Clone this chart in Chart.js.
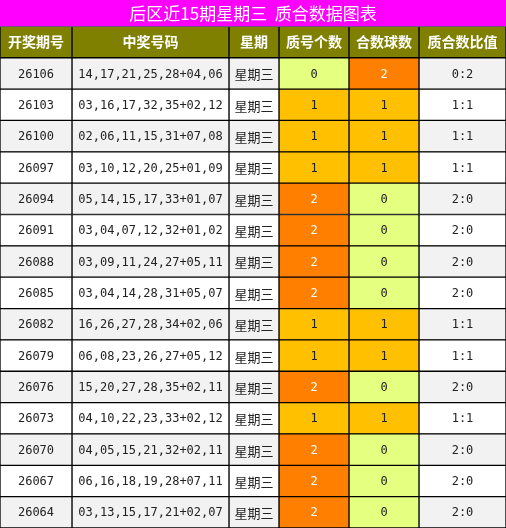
<!DOCTYPE html>
<html><head><meta charset="utf-8">
<script src="https://cdn.jsdelivr.net/npm/chart.js@4"></script>
<style>html,body{margin:0;padding:0;background:#fff}#w{width:506px;height:528px}</style>
</head><body><div id="w"><canvas id="c"></canvas></div>
<script>
const titleText = '后区近15期星期三  质合数据图表';
const headers = ['开奖期号','中奖号码','星期','质号个数','合数球数','质合数比值'];
const issues = ['26106','26103','26100','26097','26094','26091','26088','26085','26082','26079','26076','26073','26070','26067','26064'];
const numbers = ['14,17,21,25,28+04,06','03,16,17,32,35+02,12','02,06,11,15,31+07,08','03,10,12,20,25+01,09','05,14,15,17,33+01,07','03,04,07,12,32+01,02','03,09,11,24,27+05,11','03,04,14,28,31+05,07','16,26,27,28,34+02,06','06,08,23,26,27+05,12','15,20,27,28,35+02,11','04,10,22,23,33+02,12','04,05,15,21,32+02,11','06,16,18,19,28+07,11','03,13,15,17,21+02,07'];
const weekday = issues.map(()=> '星期三');
const primeCount = [0,1,1,1,2,2,2,2,1,1,2,1,2,2,2];
const compositeCount = [2,1,1,1,0,0,0,0,1,1,0,1,0,0,0];
const ratio = primeCount.map((p,i)=>p+':'+compositeCount[i]);

const colEdges = [0,72,229,279,349,419,506];
const rowLabels = ['header', ...issues];
const valColor = v => v===0?'#E5FF80':(v===1?'#FFC000':'#FF8000');
const rowBg = i => i%2===0?'#F2F2F2':'#FFFFFF';

const cols = [
  {text: issues, color: i=>rowBg(i), mono:true},
  {text: numbers, color: i=>rowBg(i), mono:true},
  {text: weekday, color: i=>rowBg(i), mono:false},
  {text: primeCount.map(String), color: i=>valColor(primeCount[i]), tc: i=>primeCount[i]===2?'#fff':'#222', mono:true},
  {text: compositeCount.map(String), color: i=>valColor(compositeCount[i]), tc: i=>compositeCount[i]===2?'#fff':'#222', mono:true},
  {text: ratio, color: i=>rowBg(i), mono:true},
];
const datasets = cols.map((c,ci)=>({
  data: rowLabels.map(()=>[colEdges[ci],colEdges[ci+1]]),
  backgroundColor: rowLabels.map((r,ri)=> ri===0?'#808000':c.color(ri-1)),
  borderColor:'#000', borderWidth:1, borderSkipped:false,
  barPercentage:1, categoryPercentage:1
}));

const bgTitle = {id:'bgTitle', beforeDraw(ch){const t=ch.titleBlock;const x=ch.ctx;x.save();x.fillStyle='#FF00FF';x.fillRect(0,0,ch.width,t.bottom);x.restore();}};
const texts = {id:'texts', afterDatasetsDraw(ch){
  const ctx=ch.ctx; ctx.save(); ctx.textAlign='center'; ctx.textBaseline='middle';
  cols.forEach((c,ci)=>{
    const meta=ch.getDatasetMeta(ci);
    meta.data.forEach((el,ri)=>{
      const cx=(el.x+el.base)/2, cy=el.y;
      if(ri===0){ctx.fillStyle='#fff';ctx.font='bold 14px "Noto Sans CJK SC"';ctx.fillText(headers[ci],cx,cy);}
      else{ctx.fillStyle=c.tc?c.tc(ri-1):'#222';ctx.font=c.mono?'12px "DejaVu Sans Mono"':'13px "Noto Sans CJK SC"';ctx.fillText(c.text[ri-1],cx,cy+1);}
    });
  });
  ctx.restore();
}};

new Chart(document.getElementById('c'),{
  type:'bar',
  data:{labels:rowLabels, datasets},
  options:{
    indexAxis:'y', responsive:true, maintainAspectRatio:false, animation:false,
    layout:{padding:0},
    scales:{
      x:{type:'linear',min:0,max:506,display:false,stacked:false},
      y:{type:'category',display:false,offset:true,stacked:true}
    },
    plugins:{
      legend:{display:false}, tooltip:{enabled:false},
      title:{display:true,text:titleText,color:'#fff',font:{family:'"Noto Sans CJK SC"',size:17,weight:'normal'},padding:{top:3,bottom:3}}
    }
  },
  plugins:[bgTitle,texts]
});
</script></body></html>
